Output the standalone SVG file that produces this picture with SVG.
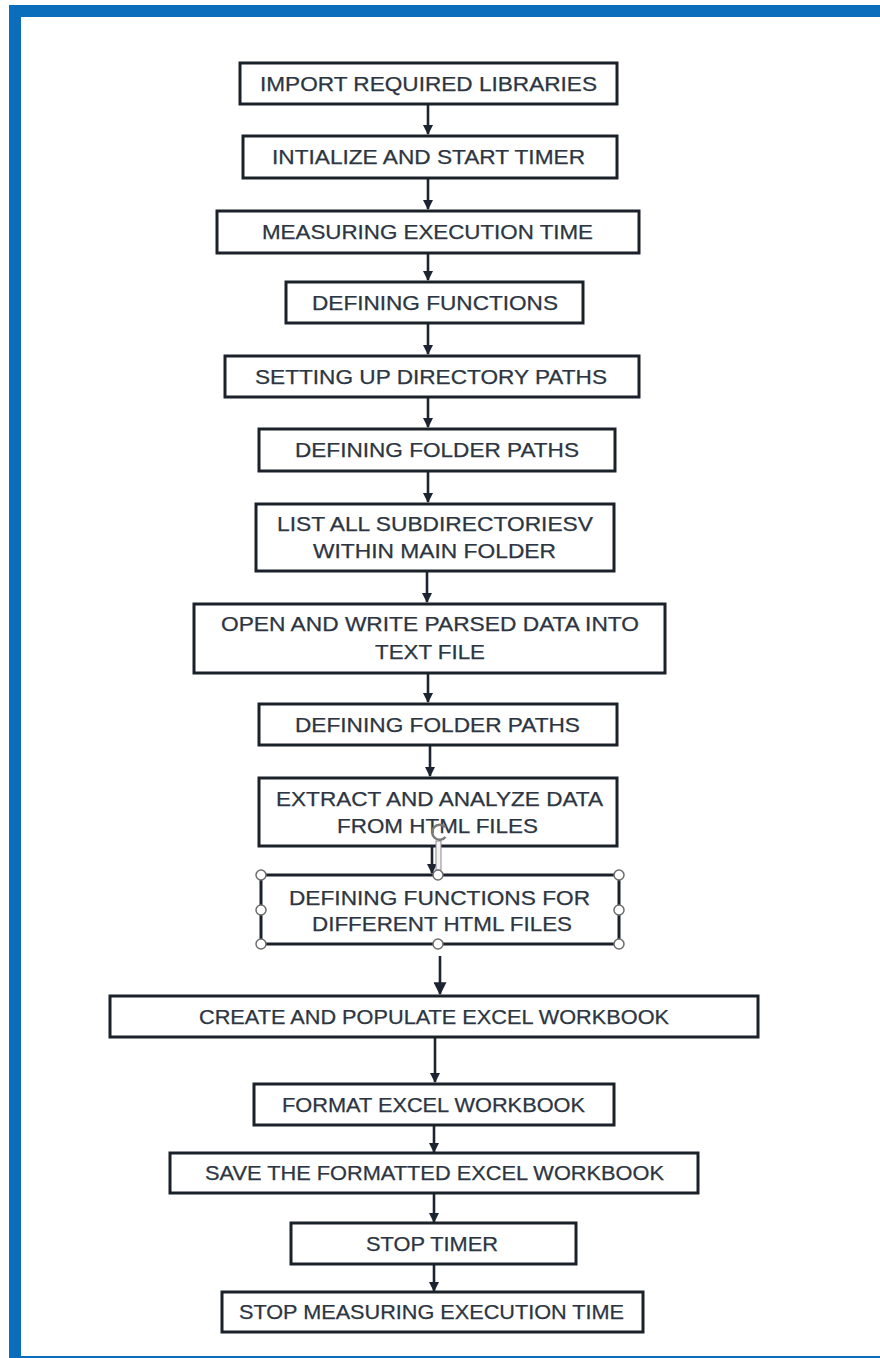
<svg xmlns="http://www.w3.org/2000/svg" width="880" height="1358" viewBox="0 0 880 1358">
<defs>
<style>
.box{fill:#ffffff;stroke:#1b2129;stroke-width:3}
.t{font-family:"Liberation Sans",Arial,sans-serif;font-size:20px;fill:#2c3541;stroke:#2c3541;stroke-width:0.25}
.c{stroke:#1b2430;stroke-width:2.6;fill:none}
.h{fill:#ffffff;stroke:#6d6d6d;stroke-width:1.5}
</style>
<marker id="ah" viewBox="0 0 10 10" refX="9" refY="5" markerWidth="4" markerHeight="4" orient="auto" markerUnits="strokeWidth">
<path d="M0,0 L10,5 L0,10 z" fill="#1b2430"/>
</marker>
<marker id="ahb" viewBox="0 0 10 10" refX="9" refY="5" markerWidth="5" markerHeight="5" orient="auto" markerUnits="strokeWidth">
<path d="M0,0 L10,5 L0,10 z" fill="#1b2430"/>
</marker>
</defs>
<rect x="9" y="5" width="871" height="1353" fill="#0a6ebd"/>
<rect x="21" y="17" width="859" height="1339" fill="#ffffff"/>

<g id="connectors">
<line class="c" x1="428" y1="104" x2="428" y2="134" marker-end="url(#ah)"/>
<line class="c" x1="428" y1="178" x2="428" y2="209" marker-end="url(#ah)"/>
<line class="c" x1="428" y1="253" x2="428" y2="280" marker-end="url(#ah)"/>
<line class="c" x1="428" y1="323" x2="428" y2="354" marker-end="url(#ah)"/>
<line class="c" x1="428" y1="397" x2="428" y2="427" marker-end="url(#ah)"/>
<line class="c" x1="428" y1="471" x2="428" y2="502" marker-end="url(#ah)"/>
<line class="c" x1="427" y1="571" x2="427" y2="602" marker-end="url(#ah)"/>
<line class="c" x1="428" y1="673" x2="428" y2="702" marker-end="url(#ah)"/>
<line class="c" x1="430" y1="745" x2="430" y2="776" marker-end="url(#ah)"/>
<line class="c" x1="432" y1="846" x2="432" y2="873" marker-end="url(#ah)"/>
<line class="c" x1="440" y1="956" x2="440" y2="994" marker-end="url(#ahb)"/>
<line class="c" x1="435" y1="1037" x2="435" y2="1082" marker-end="url(#ah)"/>
<line class="c" x1="434" y1="1125" x2="434" y2="1152" marker-end="url(#ah)"/>
<line class="c" x1="434" y1="1193" x2="434" y2="1222" marker-end="url(#ah)"/>
<line class="c" x1="434" y1="1264" x2="434" y2="1291" marker-end="url(#ah)"/>
</g>

<g id="n1"><rect class="box" x="240" y="63" width="377" height="41"/>
<text class="t" x="260" y="91" textLength="337" lengthAdjust="spacingAndGlyphs">IMPORT REQUIRED LIBRARIES</text></g>
<g id="n2"><rect class="box" x="243" y="136" width="374" height="42"/>
<text class="t" x="272" y="164" textLength="313" lengthAdjust="spacingAndGlyphs">INTIALIZE AND START TIMER</text></g>
<g id="n3"><rect class="box" x="217" y="211" width="422" height="42"/>
<text class="t" x="262" y="239" textLength="331" lengthAdjust="spacingAndGlyphs">MEASURING EXECUTION TIME</text></g>
<g id="n4"><rect class="box" x="286" y="282" width="297" height="41"/>
<text class="t" x="312" y="310" textLength="246" lengthAdjust="spacingAndGlyphs">DEFINING FUNCTIONS</text></g>
<g id="n5"><rect class="box" x="225" y="356" width="414" height="41"/>
<text class="t" x="255" y="384" textLength="352" lengthAdjust="spacingAndGlyphs">SETTING UP DIRECTORY PATHS</text></g>
<g id="n6"><rect class="box" x="259" y="429" width="356" height="42"/>
<text class="t" x="295" y="457" textLength="284" lengthAdjust="spacingAndGlyphs">DEFINING FOLDER PATHS</text></g>
<g id="n7"><rect class="box" x="256" y="504" width="358" height="67"/>
<text class="t" x="277" y="531" textLength="316" lengthAdjust="spacingAndGlyphs">LIST ALL SUBDIRECTORIESV</text>
<text class="t" x="313" y="558" textLength="243" lengthAdjust="spacingAndGlyphs">WITHIN MAIN FOLDER</text></g>
<g id="n8"><rect class="box" x="194" y="604" width="471" height="69"/>
<text class="t" x="221" y="631" textLength="418" lengthAdjust="spacingAndGlyphs">OPEN AND WRITE PARSED DATA INTO</text>
<text class="t" x="375" y="659" textLength="110" lengthAdjust="spacingAndGlyphs">TEXT FILE</text></g>
<g id="n9"><rect class="box" x="259" y="704" width="358" height="41"/>
<text class="t" x="295" y="732" textLength="285" lengthAdjust="spacingAndGlyphs">DEFINING FOLDER PATHS</text></g>
<g id="n10"><rect class="box" x="259" y="778" width="358" height="68"/>
<text class="t" x="276" y="806" textLength="327" lengthAdjust="spacingAndGlyphs">EXTRACT AND ANALYZE DATA</text>
<text class="t" x="337" y="833" textLength="201" lengthAdjust="spacingAndGlyphs">FROM HTML FILES</text></g>
<g id="n11"><rect class="box" x="261" y="875" width="358" height="69"/>
<text class="t" x="289" y="905" textLength="301" lengthAdjust="spacingAndGlyphs">DEFINING FUNCTIONS FOR</text>
<text class="t" x="312" y="931" textLength="260" lengthAdjust="spacingAndGlyphs">DIFFERENT HTML FILES</text></g>
<g id="selection">
<rect x="436" y="841" width="5" height="29" fill="#f4f4f4" stroke="#8a8a8a" stroke-width="1"/>
<path d="M445,827 A7.5,7.5 0 1 0 445.5,837" fill="none" stroke="#7a7a7a" stroke-width="2.5"/>
<circle class="h" cx="261" cy="875" r="5"/>
<circle class="h" cx="438" cy="875" r="5"/>
<circle class="h" cx="619" cy="875" r="5"/>
<circle class="h" cx="261" cy="910" r="5"/>
<circle class="h" cx="619" cy="910" r="5"/>
<circle class="h" cx="261" cy="944" r="5"/>
<circle class="h" cx="438" cy="944" r="5"/>
<circle class="h" cx="619" cy="944" r="5"/>
</g>
<g id="n12"><rect class="box" x="110" y="996" width="648" height="41"/>
<text class="t" x="199" y="1024" textLength="470" lengthAdjust="spacingAndGlyphs">CREATE AND POPULATE EXCEL WORKBOOK</text></g>
<g id="n13"><rect class="box" x="254" y="1084" width="360" height="41"/>
<text class="t" x="282" y="1112" textLength="303" lengthAdjust="spacingAndGlyphs">FORMAT EXCEL WORKBOOK</text></g>
<g id="n14"><rect class="box" x="170" y="1153" width="528" height="40"/>
<text class="t" x="205" y="1180" textLength="459" lengthAdjust="spacingAndGlyphs">SAVE THE FORMATTED EXCEL WORKBOOK</text></g>
<g id="n15"><rect class="box" x="291" y="1223" width="285" height="41"/>
<text class="t" x="366" y="1251" textLength="132" lengthAdjust="spacingAndGlyphs">STOP TIMER</text></g>
<g id="n16"><rect class="box" x="222" y="1292" width="421" height="40"/>
<text class="t" x="239" y="1319" textLength="385" lengthAdjust="spacingAndGlyphs">STOP MEASURING EXECUTION TIME</text></g>
</svg>
